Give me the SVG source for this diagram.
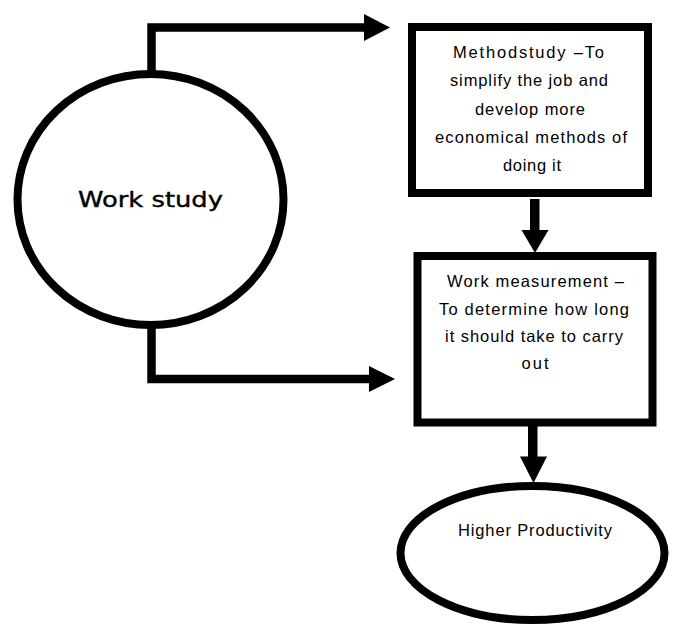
<svg xmlns="http://www.w3.org/2000/svg" width="676" height="626" viewBox="0 0 676 626">
  <style>
    .shape { fill: #ffffff; stroke: #000000; stroke-width: 8; }
    .line { fill: none; stroke: #000000; stroke-width: 8.5; stroke-linejoin: miter; stroke-linecap: butt; }
    .head { fill: #000000; stroke: none; }
    .txt { font-family: "Liberation Sans", Arial, sans-serif; font-size: 16.5px; fill: #000000; text-anchor: middle; }
    .big { font-family: "DejaVu Sans", "Liberation Sans", sans-serif; font-size: 22px; fill: #000000; text-anchor: middle; }
  </style>
  <rect x="0" y="0" width="676" height="626" fill="#ffffff"/>

  <g id="connectors">
    <path class="line" d="M151.5 78 V27.5 H366"/>
    <polygon class="head" points="364,14 390,27.5 364,41"/>
    <path class="line" d="M151.5 322 V379 H371"/>
    <polygon class="head" points="369,366 395,379 369,392"/>
    <rect class="head" x="530" y="199" width="9.5" height="33"/>
    <polygon class="head" points="521.5,230 548.5,230 535,253"/>
    <rect class="head" x="528" y="425" width="9.5" height="34"/>
    <polygon class="head" points="520,456.5 547,456.5 533.5,483"/>
  </g>

  <g id="work-study">
    <ellipse class="shape" cx="150.5" cy="199.5" rx="133" ry="125.5"/>
    <text class="big" x="150.5" y="207" textLength="145" lengthAdjust="spacingAndGlyphs" stroke="#000000" stroke-width="0.4">Work study</text>
  </g>

  <g id="method-study">
    <rect class="shape" x="412" y="27" width="236" height="166"/>
    <text class="txt" x="528.5" y="57.5" textLength="151" lengthAdjust="spacing">Methodstudy –To</text>
    <text class="txt" x="529" y="86" textLength="158" lengthAdjust="spacing">simplify the job and</text>
    <text class="txt" x="530" y="114.5" textLength="110" lengthAdjust="spacing">develop more</text>
    <text class="txt" x="531" y="143" textLength="192" lengthAdjust="spacing">economical methods of</text>
    <text class="txt" x="532" y="170.5" textLength="58" lengthAdjust="spacing">doing it</text>
  </g>

  <g id="work-measurement">
    <rect class="shape" x="417.5" y="256" width="235" height="166.5"/>
    <text class="txt" x="535.5" y="286.5" textLength="177" lengthAdjust="spacing">Work measurement –</text>
    <text class="txt" x="534" y="315" textLength="190" lengthAdjust="spacing">To determine how long</text>
    <text class="txt" x="534" y="342" textLength="178" lengthAdjust="spacing">it should take to carry</text>
    <text class="txt" x="535" y="368.5" textLength="27" lengthAdjust="spacing">out</text>
  </g>

  <g id="higher-productivity">
    <ellipse class="shape" cx="532.5" cy="553" rx="132" ry="67"/>
    <text class="txt" x="535" y="536" textLength="154" lengthAdjust="spacing">Higher Productivity</text>
  </g>
</svg>
